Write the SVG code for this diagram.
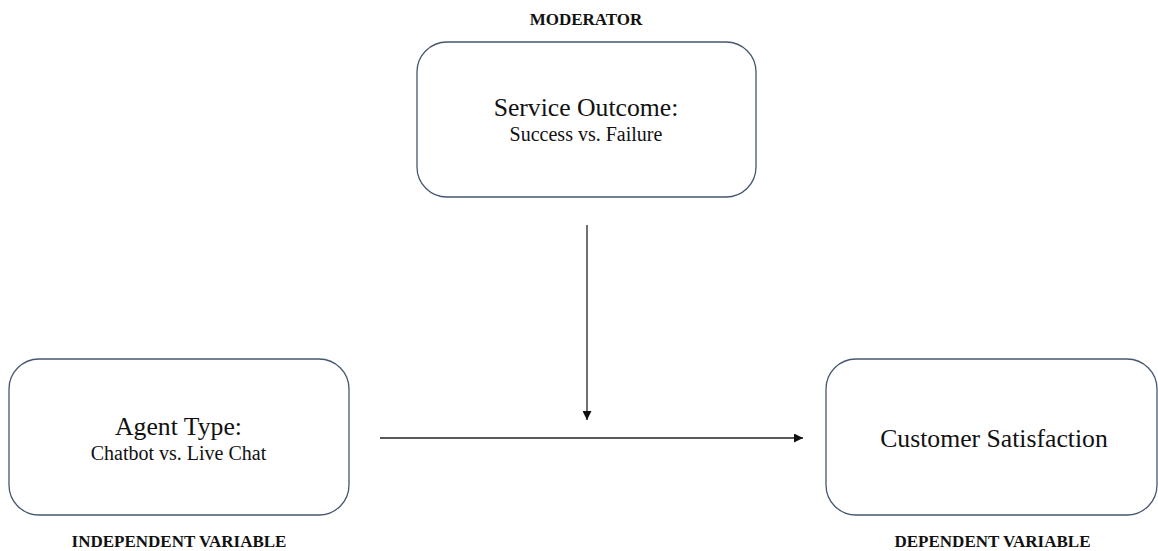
<svg xmlns="http://www.w3.org/2000/svg" width="1158" height="551" viewBox="0 0 1158 551">
  <style>
    .box { fill: #ffffff; stroke: #46566f; stroke-width: 1.3; }
    .title { font-family: "Liberation Serif", "Times New Roman", serif; font-size: 25.7px; fill: #111; text-anchor: middle; }
    .sub { font-family: "Liberation Serif", "Times New Roman", serif; font-size: 20px; fill: #111; text-anchor: middle; }
    .tag { font-family: "Liberation Serif", "Times New Roman", serif; font-size: 17px; font-weight: bold; fill: #111; text-anchor: middle; }
    .link { stroke: #222; stroke-width: 1.3; fill: none; marker-end: url(#arrow); }
  </style>
  <defs>
    <marker id="arrow" viewBox="0 0 10 10" refX="10" refY="5" markerWidth="9" markerHeight="9" markerUnits="userSpaceOnUse" orient="auto">
      <path d="M0,0 L10,5 L0,10 z" fill="#111"/>
    </marker>
  </defs>
  <rect width="1158" height="551" fill="#ffffff"/>

  <g id="moderator">
    <text class="tag" x="586" y="25">MODERATOR</text>
    <rect class="box" x="417" y="42" width="339" height="155" rx="30" ry="30"/>
    <text class="title" x="586" y="116">Service Outcome:</text>
    <text class="sub" x="586" y="141">Success vs. Failure</text>
  </g>

  <g id="independent">
    <rect class="box" x="9" y="359" width="340" height="156" rx="30" ry="30"/>
    <text class="title" x="178.5" y="435">Agent Type:</text>
    <text class="sub" x="178.5" y="460">Chatbot vs. Live Chat</text>
    <text class="tag" x="179" y="547">INDEPENDENT VARIABLE</text>
  </g>

  <g id="dependent">
    <rect class="box" x="826" y="359" width="331" height="156" rx="30" ry="30"/>
    <text class="title" x="994" y="447">Customer Satisfaction</text>
    <text class="tag" x="992.5" y="547">DEPENDENT VARIABLE</text>
  </g>

  <g id="connectors">
    <line class="link" x1="587" y1="225" x2="587" y2="420"/>
    <line class="link" x1="380" y1="438" x2="803" y2="438"/>
  </g>
</svg>
